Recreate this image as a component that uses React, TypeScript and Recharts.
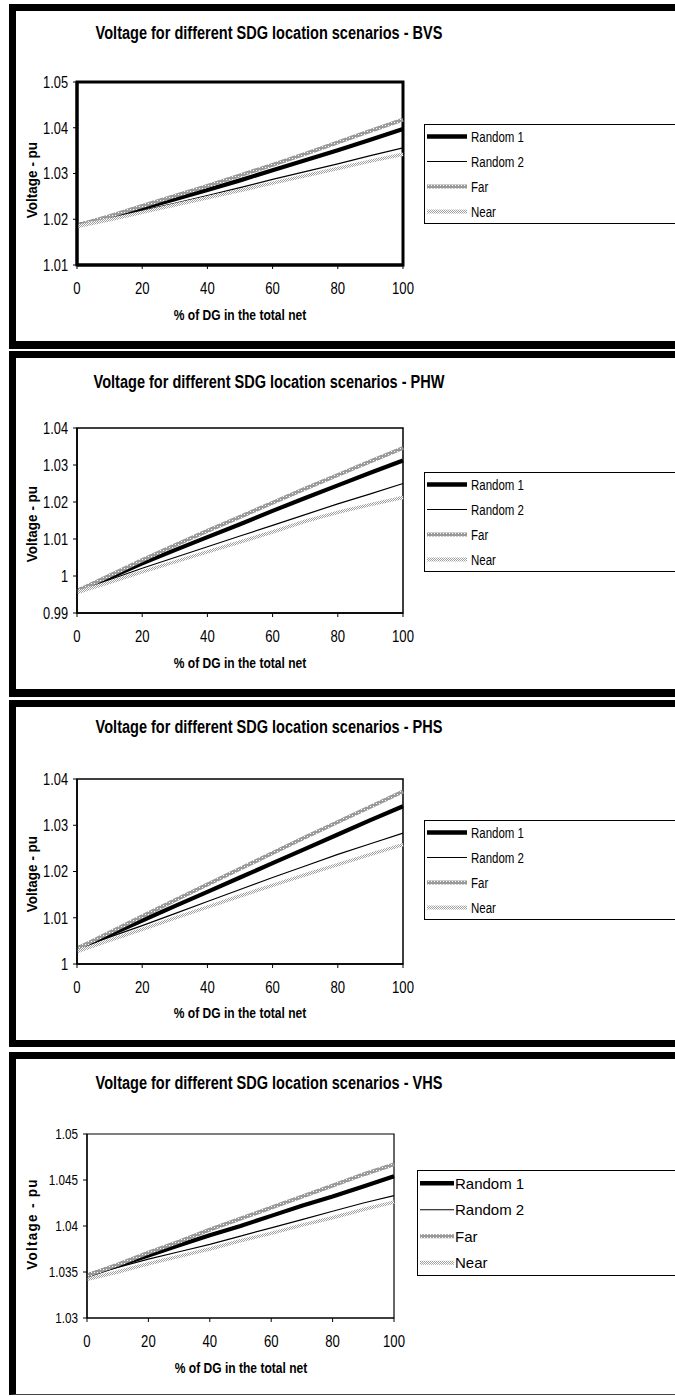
import React from "react";
import { LineChart, Line, XAxis, YAxis, ReferenceArea } from "recharts";

// ---------- data ----------
const X_VALUES = [0, 10, 20, 30, 40, 50, 60, 70, 80, 90, 100];
const X_TICKS = [0, 20, 40, 60, 80, 100];
const SERIES_NAMES = ["Random 1", "Random 2", "Far", "Near"];
const TITLES = [
  "Voltage for different SDG location scenarios - BVS",
  "Voltage for different SDG location scenarios - PHW",
  "Voltage for different SDG location scenarios - PHS",
  "Voltage for different SDG location scenarios - VHS",
];
const X_LABEL = "% of DG in the total net";
const Y_LABEL = "Voltage - pu";

// BVS
const BVS_TICKS = [1.01, 1.02, 1.03, 1.04, 1.05];
const BVS_R1 = [1.0186, 1.0204, 1.0224, 1.0244, 1.0264, 1.0285, 1.0307, 1.0329, 1.0351, 1.0374, 1.0397];
const BVS_R2 = [1.0186, 1.0202, 1.0219, 1.0235, 1.0252, 1.0269, 1.0287, 1.0304, 1.0321, 1.0339, 1.0356];
const BVS_FAR = [1.0186, 1.0207, 1.0229, 1.0251, 1.0273, 1.0296, 1.0319, 1.0343, 1.0368, 1.0393, 1.0418];
const BVS_NEAR = [1.0184, 1.0199, 1.0215, 1.0231, 1.0247, 1.0263, 1.0279, 1.0295, 1.0311, 1.0327, 1.0342];

// PHW
const PHW_TICKS = [0.99, 1.0, 1.01, 1.02, 1.03, 1.04];
const PHW_R1 = [0.9959, 0.9996, 1.0034, 1.007, 1.0105, 1.014, 1.0176, 1.0211, 1.0245, 1.0279, 1.0312];
const PHW_R2 = [0.9959, 0.999, 1.0021, 1.005, 1.0079, 1.0108, 1.0137, 1.0166, 1.0195, 1.0222, 1.025];
const PHW_FAR = [0.9959, 1.0001, 1.0043, 1.0083, 1.0122, 1.016, 1.0198, 1.0236, 1.0273, 1.031, 1.0346];
const PHW_NEAR = [0.9955, 0.9983, 1.0011, 1.0038, 1.0065, 1.0092, 1.0119, 1.0148, 1.0172, 1.0193, 1.0212];

// PHS
const PHS_TICKS = [1.0, 1.01, 1.02, 1.03, 1.04];
const PHS_R1 = [1.0033, 1.0063, 1.0094, 1.0125, 1.0156, 1.0187, 1.0218, 1.0249, 1.028, 1.0311, 1.0341];
const PHS_R2 = [1.0033, 1.0058, 1.0083, 1.0109, 1.0135, 1.0161, 1.0187, 1.0212, 1.0237, 1.026, 1.0283];
const PHS_FAR = [1.0033, 1.0068, 1.0103, 1.0138, 1.0172, 1.0206, 1.024, 1.0274, 1.0307, 1.034, 1.0373];
const PHS_NEAR = [1.0027, 1.0051, 1.0075, 1.0099, 1.0123, 1.0147, 1.017, 1.0193, 1.0215, 1.0237, 1.0258];

// VHS
const VHS_TICKS = [1.03, 1.035, 1.04, 1.045, 1.05];
const VHS_R1 = [1.0346, 1.0357, 1.0368, 1.0379, 1.039, 1.04, 1.0411, 1.0422, 1.0432, 1.0443, 1.0454];
const VHS_R2 = [1.0346, 1.0355, 1.0364, 1.0372, 1.038, 1.0389, 1.0398, 1.0407, 1.0416, 1.0425, 1.0433];
const VHS_FAR = [1.0346, 1.0358, 1.0371, 1.0383, 1.0396, 1.0408, 1.042, 1.0432, 1.0444, 1.0456, 1.0467];
const VHS_NEAR = [1.0342, 1.035, 1.0359, 1.0367, 1.0375, 1.0384, 1.0392, 1.0401, 1.0409, 1.0418, 1.0426];

// ---------- styling ----------
const FONT = "'Liberation Sans', Arial, sans-serif";

type Layout = {
  frameTop: number;
  frameBottom: number;
  bottomBorder: number;
  plotL: number;
  plotR: number;
  plotT: number;
  plotB: number;
  plotStroke: number;
  axisStroke: number;
  titleY: number;
  xLabelY: number;
  yLabelY: number;
  yLabelSpacing: number;
  yTickFont: number;
  yTickScale: number;
  legX: number;
  legY: number;
  legH: number;
  legLine: number;
  legGap: number;
  legFont: number;
  legScale: number;
};

const LAYOUTS: Layout[] = [
  { frameTop: 4, frameBottom: 349, bottomBorder: 8, plotL: 77, plotR: 403, plotT: 82, plotB: 265, plotStroke: 3, axisStroke: 3, titleY: 33, xLabelY: 315, yLabelY: 180, yLabelSpacing: 0, yTickFont: 16, yTickScale: 0.8, legX: 424, legY: 124, legH: 100, legLine: 40, legGap: 4, legFont: 14, legScale: 0.82 },
  { frameTop: 351, frameBottom: 697, bottomBorder: 8, plotL: 77, plotR: 403, plotT: 428, plotB: 613, plotStroke: 1.5, axisStroke: 1.5, titleY: 382, xLabelY: 663, yLabelY: 524, yLabelSpacing: 0, yTickFont: 16, yTickScale: 0.8, legX: 424, legY: 472, legH: 100, legLine: 40, legGap: 4, legFont: 14, legScale: 0.82 },
  { frameTop: 700, frameBottom: 1047, bottomBorder: 7, plotL: 77, plotR: 403, plotT: 779, plotB: 964, plotStroke: 1.5, axisStroke: 1.5, titleY: 727, xLabelY: 1013, yLabelY: 874, yLabelSpacing: 0, yTickFont: 16, yTickScale: 0.8, legX: 424, legY: 820, legH: 100, legLine: 40, legGap: 4, legFont: 14, legScale: 0.82 },
  { frameTop: 1052, frameBottom: 1395, bottomBorder: 1, plotL: 87, plotR: 394, plotT: 1134, plotB: 1318, plotStroke: 1.2, axisStroke: 1.2, titleY: 1083, xLabelY: 1368, yLabelY: 1224, yLabelSpacing: 1.4, yTickFont: 15, yTickScale: 0.78, legX: 417, legY: 1170, legH: 106, legLine: 34, legGap: 1, legFont: 15, legScale: 1 },
];

const PANELS = [
  { title: TITLES[0], ticks: BVS_TICKS, r1: BVS_R1, r2: BVS_R2, far: BVS_FAR, near: BVS_NEAR },
  { title: TITLES[1], ticks: PHW_TICKS, r1: PHW_R1, r2: PHW_R2, far: PHW_FAR, near: PHW_NEAR },
  { title: TITLES[2], ticks: PHS_TICKS, r1: PHS_R1, r2: PHS_R2, far: PHS_FAR, near: PHS_NEAR },
  { title: TITLES[3], ticks: VHS_TICKS, r1: VHS_R1, r2: VHS_R2, far: VHS_FAR, near: VHS_NEAR },
];

const fmt = (v: number) => String(parseFloat(Number(v).toFixed(3)));

function PatternDefs({ id }: { id: string }) {
  return (
    <defs>
      <pattern id={`far-${id}`} width="3" height="3" patternUnits="userSpaceOnUse">
        <rect width="3" height="3" fill="#9a9a9a" />
        <rect x="1" y="1" width="1" height="1" fill="#ffffff" />
      </pattern>
      <pattern id={`near-${id}`} width="2" height="2" patternUnits="userSpaceOnUse">
        <rect width="2" height="2" fill="#ffffff" />
        <rect x="0" y="0" width="1" height="1" fill="#a0a0a0" />
        <rect x="1" y="1" width="1" height="1" fill="#a0a0a0" />
      </pattern>
    </defs>
  );
}

function makeXTick() {
  return (props: any) => {
    const { x, y, payload } = props;
    return (
      <text transform={`translate(${x},${y}) scale(0.82,1)`} textAnchor="middle" dy="0.71em" fontFamily={FONT} fontSize={16} fill="#000">
        {fmt(payload.value)}
      </text>
    );
  };
}

function makeYTick(size: number, scale: number) {
  return (props: any) => {
    const { x, y, payload } = props;
    return (
      <text transform={`translate(${x},${y}) scale(${scale},1)`} textAnchor="end" dy="0.36em" fontFamily={FONT} fontSize={size} fill="#000">
        {fmt(payload.value)}
      </text>
    );
  };
}

function LegendBox({ L, id }: { L: Layout; id: string }) {
  const rowH = L.legH / 4;
  const w = 700 - L.legX;
  return (
    <div style={{ position: "absolute", left: L.legX, top: L.legY, width: w, height: L.legH, border: "1px solid #000", boxSizing: "border-box", background: "#fff" }}>
      <svg width={w} height={L.legH} style={{ position: "absolute", left: -1, top: -1 }}>
        <PatternDefs id={`lg-${id}`} />
        {SERIES_NAMES.map((name, i) => {
          const cy = rowH * i + rowH / 2;
          const stroke = i < 2 ? "#000" : i === 2 ? `url(#far-lg-${id})` : `url(#near-lg-${id})`;
          const sw = i === 0 ? 4.5 : i === 1 ? 1.2 : 4;
          const tx = 3 + L.legLine + L.legGap;
          return (
            <g key={name}>
              <line x1={3} x2={3 + L.legLine} y1={cy} y2={cy} stroke={stroke} strokeWidth={sw} />
              <text transform={`translate(${tx},${cy}) scale(${L.legScale},1)`} dy="0.36em" fontFamily={FONT} fontSize={L.legFont} fill="#000">
                {name}
              </text>
            </g>
          );
        })}
      </svg>
    </div>
  );
}

function Panel({ idx }: { idx: number }) {
  const L = LAYOUTS[idx];
  const P = PANELS[idx];
  const id = `p${idx}`;
  const H = L.frameBottom - L.frameTop;
  const xAxisH = 40;
  const data = X_VALUES.map((x, i) => ({ x, r1: P.r1[i], r2: P.r2[i], far: P.far[i], near: P.near[i] }));
  const yMin = P.ticks[0];
  const yMax = P.ticks[P.ticks.length - 1];
  const mTop = L.plotT - L.frameTop;
  const mBottom = H - (L.plotB - L.frameTop) - xAxisH;
  return (
    <>
      <div
        style={{
          position: "absolute",
          left: 9,
          top: L.frameTop,
          width: 700,
          height: H,
          boxSizing: "border-box",
          borderLeft: "7px solid #000",
          borderTop: "7px solid #000",
          borderBottom: `${L.bottomBorder}px solid ${L.bottomBorder > 2 ? "#000" : "#444"}`,
          background: "#fff",
        }}
      />
      <div style={{ position: "absolute", left: 0, top: L.frameTop }}>
        <LineChart width={675} height={H} data={data} margin={{ top: mTop, right: 675 - L.plotR, bottom: mBottom, left: 0 }}>
          <PatternDefs id={id} />
          <XAxis
            dataKey="x"
            type="number"
            domain={[0, 100]}
            ticks={X_TICKS}
            height={xAxisH}
            axisLine={{ stroke: "#000", strokeWidth: L.axisStroke }}
            tickLine={{ stroke: "#000" }}
            tickSize={4}
            tickMargin={14}
            tick={makeXTick()}
          />
          <YAxis
            type="number"
            domain={[yMin, yMax]}
            ticks={P.ticks}
            width={L.plotL}
            axisLine={{ stroke: "#000", strokeWidth: L.axisStroke }}
            tickLine={{ stroke: "#000" }}
            tickSize={4}
            tickMargin={5}
            tick={makeYTick(L.yTickFont, L.yTickScale)}
            allowDataOverflow
          />
          <ReferenceArea x1={0} x2={100} y1={yMin} y2={yMax} fill="none" stroke="#000" strokeWidth={L.plotStroke} ifOverflow="visible" />
          <Line type="linear" dataKey="r1" name="Random 1" stroke="#000" strokeWidth={4.2} dot={false} isAnimationActive={false} />
          <Line type="linear" dataKey="r2" name="Random 2" stroke="#000" strokeWidth={1.2} dot={false} isAnimationActive={false} />
          <Line type="linear" dataKey="far" name="Far" stroke={`url(#far-${id})`} strokeWidth={4} dot={false} isAnimationActive={false} />
          <Line type="linear" dataKey="near" name="Near" stroke={`url(#near-${id})`} strokeWidth={3.5} dot={false} isAnimationActive={false} />
        </LineChart>
      </div>
      <div
        style={{
          position: "absolute",
          left: 269 - 300,
          width: 600,
          top: L.titleY - 11,
          textAlign: "center",
          fontFamily: FONT,
          fontWeight: "bold",
          fontSize: 17.5,
          lineHeight: "22px",
          color: "#000",
          whiteSpace: "nowrap",
          transform: "scaleX(0.83)",
        }}
      >
        {P.title}
      </div>
      <div
        style={{
          position: "absolute",
          left: (L.plotL + L.plotR) / 2 - 150,
          width: 300,
          top: L.xLabelY - 10,
          textAlign: "center",
          fontFamily: FONT,
          fontWeight: "bold",
          fontSize: 14.5,
          lineHeight: "20px",
          color: "#000",
          whiteSpace: "nowrap",
          transform: "scaleX(0.83)",
        }}
      >
        {X_LABEL}
      </div>
      <div
        style={{
          position: "absolute",
          left: 32,
          top: L.yLabelY,
          transform: "translate(-50%, -50%) rotate(-90deg) scaleX(0.9)",
          fontFamily: FONT,
          fontWeight: "bold",
          fontSize: 15,
          letterSpacing: L.yLabelSpacing,
          lineHeight: "20px",
          color: "#000",
          whiteSpace: "nowrap",
        }}
      >
        {Y_LABEL}
      </div>
      <LegendBox L={L} id={id} />
    </>
  );
}

export default function App() {
  return (
    <div style={{ position: "absolute", left: 0, top: 0, width: 675, height: 1397, overflow: "hidden", background: "#fff" }}>
      {PANELS.map((_, i) => (
        <Panel key={i} idx={i} />
      ))}
    </div>
  );
}
